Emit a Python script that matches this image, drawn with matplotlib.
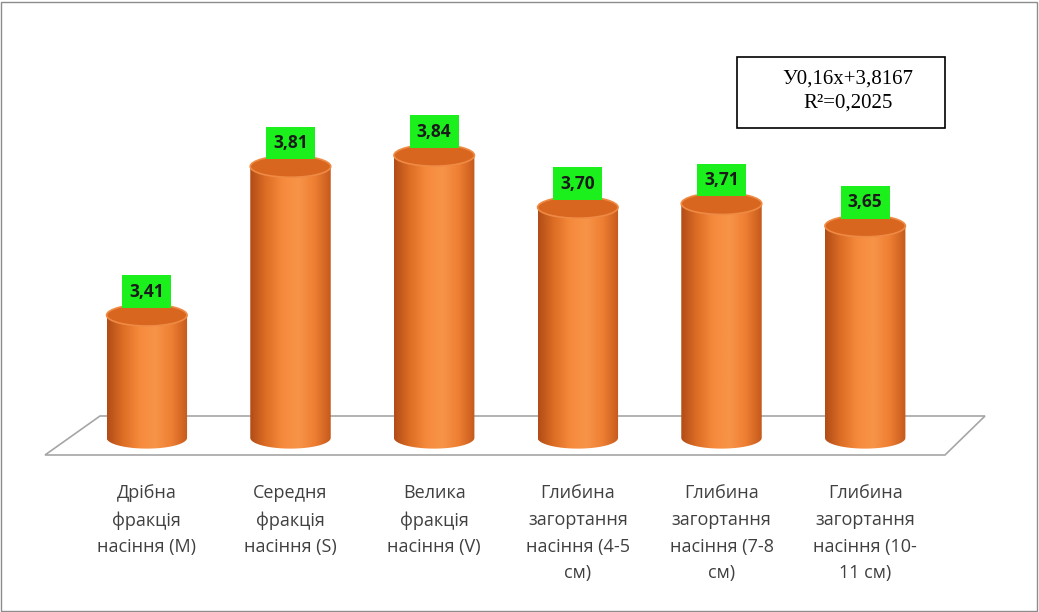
import numpy as np
import matplotlib
matplotlib.use("Agg")
import matplotlib.pyplot as plt
from matplotlib.patches import Ellipse, Rectangle, Polygon, PathPatch
from matplotlib.path import Path
from matplotlib.colors import LinearSegmentedColormap

# donnees
categories = ["Дрібна\nфракція\nнасіння (М)",
              "Середня\nфракція\nнасіння (S)",
              "Велика\nфракція\nнасіння (V)",
              "Глибина\nзагортання\nнасіння (4-5\nсм)",
              "Глибина\nзагортання\nнасіння (7-8\nсм)",
              "Глибина\nзагортання\nнасіння (10-\n11 см)"]
values = [3.41, 3.81, 3.84, 3.70, 3.71, 3.65]
value_labels = ["3,41", "3,81", "3,84", "3,70", "3,71", "3,65"]
equation = "У0,16x+3,8167\nR²=0,2025"

W, H = 1039, 612
fig = plt.figure(figsize=(W / 100, H / 100), dpi=100)
fig.patch.set_facecolor("white")

# cadre exterieur
fig.patches.append(Rectangle((1 / W, 1 / H), 1 - 3 / W, 1 - 3 / H, transform=fig.transFigure,
                             fill=False, edgecolor="#8c8c8c", lw=1, zorder=-2))

# sol 3D (parallelogramme)
floor = [(100, 416), (985, 416), (945, 455), (45, 455)]
fig.patches.append(Polygon([(x / W, 1 - y / H) for x, y in floor], closed=True,
                           transform=fig.transFigure, facecolor="white",
                           edgecolor="#a6a6a6", lw=1.2, zorder=-1))

ax = fig.add_axes([75 / W, 0.236, 862 / W, 0.6985])
ax.patch.set_visible(False)

base = 3.08
w = 0.56
eh = 0.058
cmap = LinearSegmentedColormap.from_list("cyl", ["#b24c17", "#dd6e25", "#f68a3c", "#f79448",
                                                 "#ee7f33", "#c65a1b"])
grad = np.linspace(0, 1, 200).reshape(1, -1)

x = np.arange(len(values))
for xi, v, lab in zip(x, values, value_labels):
    # corps du cylindre avec bas arrondi
    t = np.linspace(np.pi, 2 * np.pi, 60)
    verts = [(xi - w / 2, v)] + [(xi + w / 2 * np.cos(a), base + eh / 2 * np.sin(a)) for a in t] + [(xi + w / 2, v), (xi - w / 2, v)]
    codes = [Path.MOVETO] + [Path.LINETO] * (len(verts) - 2) + [Path.CLOSEPOLY]
    clip = PathPatch(Path(verts, codes), transform=ax.transData, facecolor="none", edgecolor="none")
    ax.add_patch(clip)
    im = ax.imshow(grad, cmap=cmap, aspect="auto", extent=(xi - w / 2, xi + w / 2, base - eh, v),
                   zorder=2, interpolation="bilinear")
    im.set_clip_path(clip)
    # dessus
    ax.add_patch(Ellipse((xi, v), w, eh, facecolor="#d8661f", edgecolor="#ef8a45", lw=1.2, zorder=3))
    ax.annotate(lab, (xi, v), xytext=(0, 17), textcoords="offset points", ha="center", va="center",
                fontsize=12.5, fontweight="bold", color="#1a1a1a", family=["Open Sans", "DejaVu Sans"],
                bbox=dict(boxstyle="square,pad=0.42", facecolor="#1cf01c", edgecolor="none"), zorder=4)

ax.set_xlim(-0.5, 5.5)
ax.set_ylim(3.0, 4.15)
ax.set_xticks(x)
ax.set_xticklabels(categories, fontsize=13, color="#404040", family=["Open Sans", "DejaVu Sans"],
                   linespacing=1.62)
ax.tick_params(axis="x", length=0, pad=12)
ax.set_yticks([])
for s in ax.spines.values():
    s.set_visible(False)

# boite de l'equation
fig.patches.append(Rectangle((737 / W, 1 - 128 / H), 208 / W, 71 / H, transform=fig.transFigure,
                             fill=False, edgecolor="black", lw=1.2))
fig.text(848 / W, 1 - 91 / H, equation, ha="center", va="center", fontsize=15,
         family=["Liberation Serif", "DejaVu Serif"], linespacing=1.3)

fig.savefig("out.png", dpi=100)
